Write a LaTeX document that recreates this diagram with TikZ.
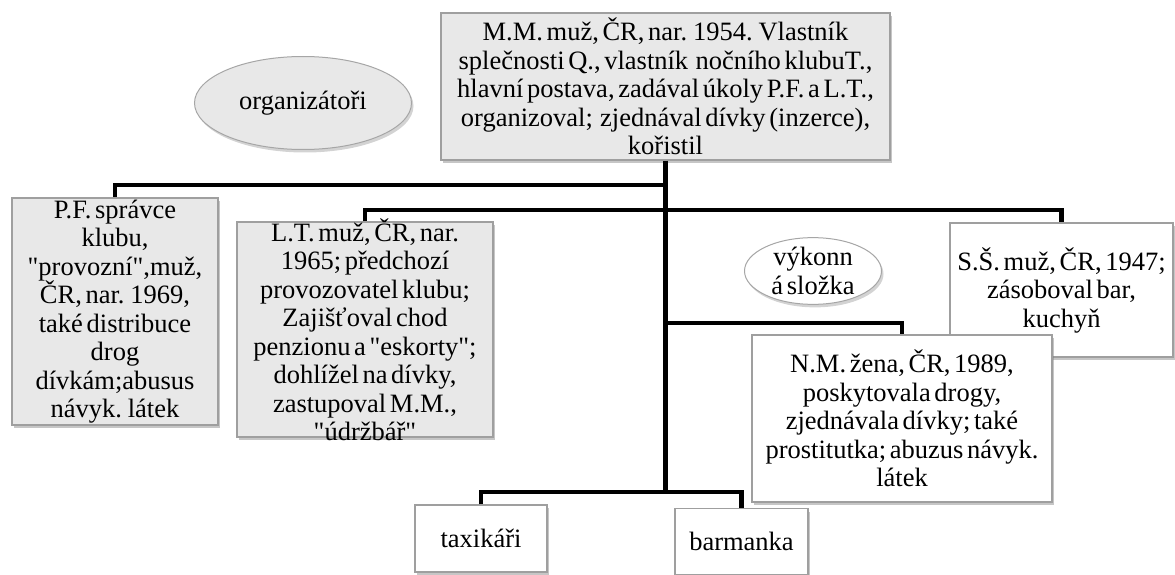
\documentclass[tikz,border=0pt]{standalone}
\usepackage{fontspec}
\setmainfont{Liberation Serif}[Ligatures=TeXOff, WordSpace=0.55]
\usetikzlibrary{shapes.geometric,shadows}
\tikzset{
  osoba/.style={draw=gray!75, line width=1.2pt, align=center, inner sep=0pt,
    drop shadow={shadow xshift=2pt, shadow yshift=-3pt, opacity=.45}},
  organizator/.style={osoba, fill=gray!18},
  vykonny/.style={osoba, fill=white},
  skupina/.style={ellipse, draw=gray!70, line width=1pt, align=center, inner sep=0pt,
    drop shadow={shadow xshift=2pt, shadow yshift=-3pt, opacity=.35}},
  spoj/.style={line width=4.5pt, black}
}

\begin{document}
\begin{tikzpicture}[x=1pt, y=-1pt, font=\fontsize{26.5}{28.5}\selectfont]
    \useasboundingbox (0,0) rectangle (1175,575);
    % organizatori
    \node[organizator, minimum width=449pt, minimum height=147pt] (mm) at (665.5,86.5)
        {M.M. muž, ČR, nar. 1954. Vlastník\\splečnosti Q., vlastník\ \ nočního klubuT.,\\hlavní postava, zadával úkoly P.F. a L.T.,\\organizoval;\ \ zjednával dívky (inzerce),\\kořistil};
    \node[skupina, fill=gray!18, minimum width=217pt, minimum height=93pt] (org) at (303,103) {organizátoři};
    \node[organizator, minimum width=206pt, minimum height=227pt] (pf) at (115,311.5)
        {P.F. správce\\klubu,\\"provozní",muž,\\ČR, nar. 1969,\\také distribuce\\drog\\dívkám;abusus\\návyk. látek};
    \node[organizator, minimum width=256pt, minimum height=215pt,
        label={[align=center]center:L.T. muž, ČR, nar.\\1965; předchozí\\provozovatel klubu;\\Zajišťoval chod\\penzionu a "eskorty";\\dohlížel na dívky,\\zastupoval M.M.,\\"údržbář"}] (lt) at (365,329.5) {};
    % vykonna slozka
    \node[skupina, fill=white, minimum width=137pt, minimum height=58pt] (vyk) at (813,271) {výkonn\\á složka};
    \node[vykonny, minimum width=223pt, minimum height=134pt] (ss) at (1061.5,290)
        {S.Š. muž, ČR, 1947;\\zásoboval bar,\\kuchyň};
    \node[vykonny, minimum width=300pt, minimum height=167pt] (nm) at (902,418.5)
        {N.M. žena, ČR, 1989,\\poskytovala drogy,\\zjednávala dívky; také\\prostitutka; abuzus návyk.\\látek};
    \node[vykonny, minimum width=132pt, minimum height=67pt] (tx) at (481,538.5) {taxikáři};
    \node[vykonny, minimum width=133pt, minimum height=66pt] (bar) at (741.5,541.5) {barmanka};
    % spoje
    \coordinate (j1) at (mm.south |- 0,185);
    \coordinate (j2) at (mm.south |- 0,210);
    \coordinate (j3) at (mm.south |- 0,323);
    \coordinate (j4) at (mm.south |- 0,492);
    \draw[spoj] (mm.south) -- (j4);
    \draw[spoj] (j1) -| (pf.north);
    \draw[spoj] (lt.north) |- (j2) -| (ss.north);
    \draw[spoj] (j3) -| (nm.north);
    \draw[spoj] (tx.north) |- (j4) -| (bar.north);
\end{tikzpicture}
\end{document}
